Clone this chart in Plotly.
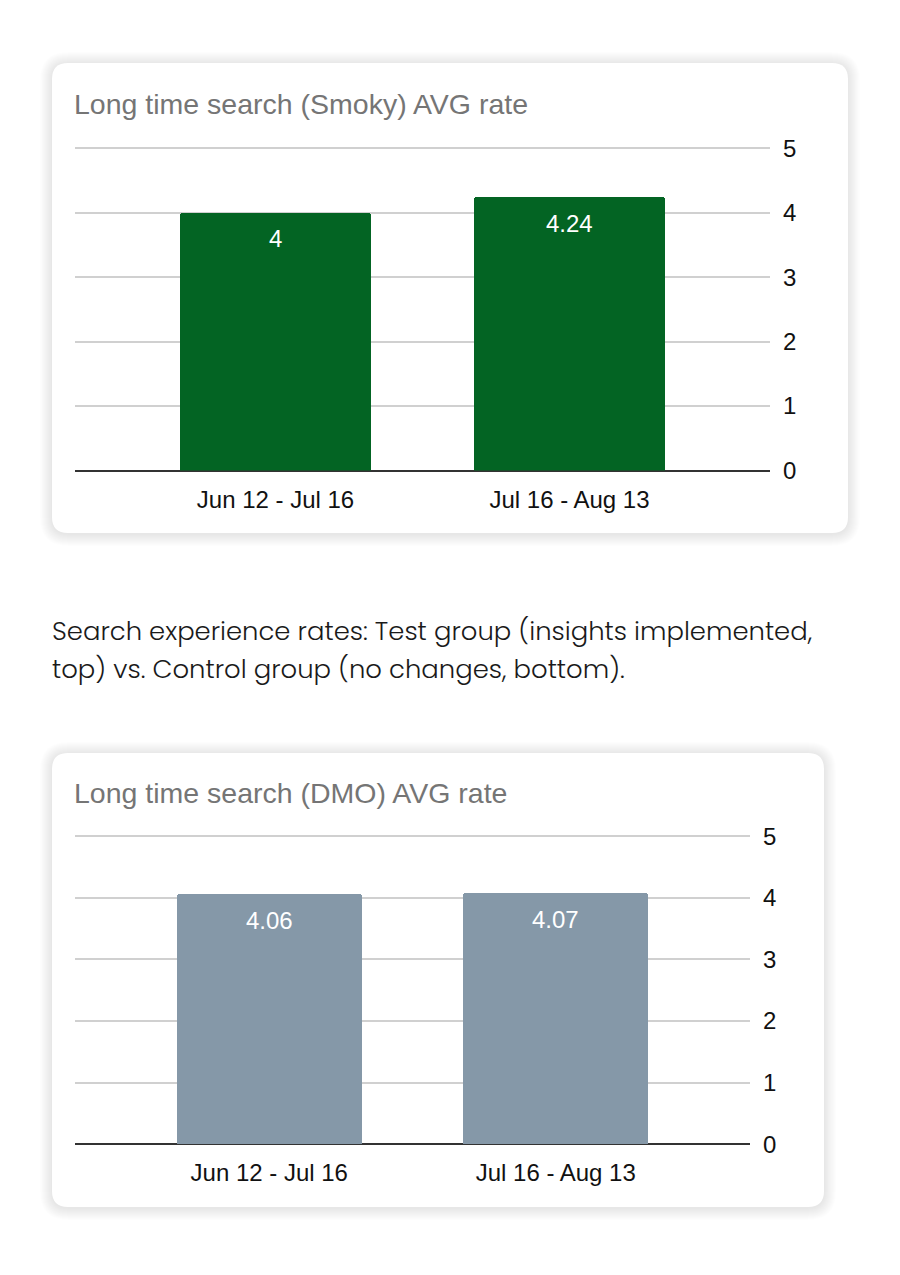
import plotly.graph_objects as go

# ---- data ----
categories = ["Jun 12 - Jul 16", "Jul 16 - Aug 13"]
smoky_values = [4.0, 4.24]
smoky_labels = ["4", "4.24"]
dmo_values = [4.06, 4.07]
dmo_labels = ["4.06", "4.07"]
y_ticks = [0, 1, 2, 3, 4, 5]
title_top = "Long time search (Smoky) AVG rate"
title_bottom = "Long time search (DMO) AVG rate"
caption_lines = [
    "Search experience rates: Test group (insights implemented,",
    "top) vs. Control group (no changes, bottom).",
]

W, H = 900, 1275
GREEN = "#036423"
GREY = "#8598a8"
FONT = "Liberation Sans, Arial, sans-serif"


def px(x):
    return x / W


def py(y):
    return 1 - y / H


def rrect(x0, y0, x1, y1, r):
    X = lambda v: f"{px(v):.5f}"
    Y = lambda v: f"{py(v):.5f}"
    return (
        f"M {X(x0 + r)} {Y(y0)} L {X(x1 - r)} {Y(y0)} "
        f"Q {X(x1)} {Y(y0)} {X(x1)} {Y(y0 + r)} "
        f"L {X(x1)} {Y(y1 - r)} Q {X(x1)} {Y(y1)} {X(x1 - r)} {Y(y1)} "
        f"L {X(x0 + r)} {Y(y1)} Q {X(x0)} {Y(y1)} {X(x0)} {Y(y1 - r)} "
        f"L {X(x0)} {Y(y0 + r)} Q {X(x0)} {Y(y0)} {X(x0 + r)} {Y(y0)} Z"
    )


shapes = []
for (cx0, cy0, cx1, cy1) in [(52, 63, 848, 533), (52, 753, 824, 1207)]:
    for i in range(12, 0, -1):
        shapes.append(dict(type="path", xref="paper", yref="paper", layer="below",
                           path=rrect(cx0 - i, cy0 - i + 1, cx1 + i, cy1 + i + 1, 16 + i),
                           fillcolor="rgba(0,0,0,0.008)", line=dict(width=0)))
    shapes.append(dict(type="path", xref="paper", yref="paper", layer="below",
                       path=rrect(cx0, cy0, cx1, cy1, 16),
                       fillcolor="white", line=dict(width=0)))

fig = go.Figure()
fig.add_trace(go.Bar(x=categories, y=smoky_values, xaxis="x", yaxis="y",
                     marker=dict(color=GREEN, cornerradius=3, line=dict(width=0)),
                     width=0.653, hoverinfo="skip", showlegend=False))
fig.add_trace(go.Bar(x=categories, y=dmo_values, xaxis="x2", yaxis="y2",
                     marker=dict(color=GREY, cornerradius=3, line=dict(width=0)),
                     width=0.646, hoverinfo="skip", showlegend=False))

annotations = []
for cat, v, t in zip(categories, smoky_values, smoky_labels):
    annotations.append(dict(x=cat, y=v, xref="x", yref="y", text=t, showarrow=False,
                            yanchor="middle", yshift=-26,
                            font=dict(family=FONT, size=24, color="white")))
for cat, v, t in zip(categories, dmo_values, dmo_labels):
    annotations.append(dict(x=cat, y=v, xref="x2", yref="y2", text=t, showarrow=False,
                            yanchor="middle", yshift=-26,
                            font=dict(family=FONT, size=24, color="white")))

annotations.append(dict(x=px(72), y=py(103.5), xref="paper", yref="paper", text=title_top,
                        showarrow=False, xanchor="left", yanchor="middle",
                        font=dict(family=FONT, size=28.5, color="#757575")))
annotations.append(dict(x=px(72), y=py(793), xref="paper", yref="paper", text=title_bottom,
                        showarrow=False, xanchor="left", yanchor="middle",
                        font=dict(family=FONT, size=28.5, color="#757575")))
for yy, line in zip([631, 669], caption_lines):
    annotations.append(dict(x=px(50), y=py(yy), xref="paper", yref="paper", text=line,
                            showarrow=False, xanchor="left", yanchor="middle",
                            font=dict(family="Poppins, Lato, sans-serif", size=25.9,
                                      color="#1a1a1a", weight=300)))

xcommon = dict(type="category", showgrid=False, showline=False, zeroline=False, ticks="",
               tickfont=dict(family=FONT, size=24, color="#111111"), ticklabelstandoff=12,
               fixedrange=True, automargin=False)
ycommon = dict(range=[0, 5.05], tickvals=y_ticks, side="right", showgrid=True,
               gridcolor="#d0d0d0", gridwidth=1.5, zeroline=True, zerolinecolor="#333333",
               zerolinewidth=1.5, showline=False, ticks="",
               tickfont=dict(family=FONT, size=24, color="#111111"), ticklabelstandoff=12,
               fixedrange=True, automargin=False)

fig.update_layout(
    width=W, height=H, margin=dict(l=0, r=0, t=0, b=0, autoexpand=False),
    paper_bgcolor="white", plot_bgcolor="rgba(0,0,0,0)",
    bargap=0, shapes=shapes, annotations=annotations, showlegend=False,
    xaxis=dict(xcommon, domain=[px(75), px(770)], anchor="y", range=[-0.682, 1.682]),
    yaxis=dict(ycommon, domain=[py(470.5), py(145.0)], anchor="x"),
    xaxis2=dict(xcommon, domain=[px(75), px(750)], anchor="y2", range=[-0.678, 1.678]),
    yaxis2=dict(ycommon, domain=[py(1144.3), py(833.1)], anchor="x2"),
)

fig.write_html("out.html", config=dict(displayModeBar=False))
